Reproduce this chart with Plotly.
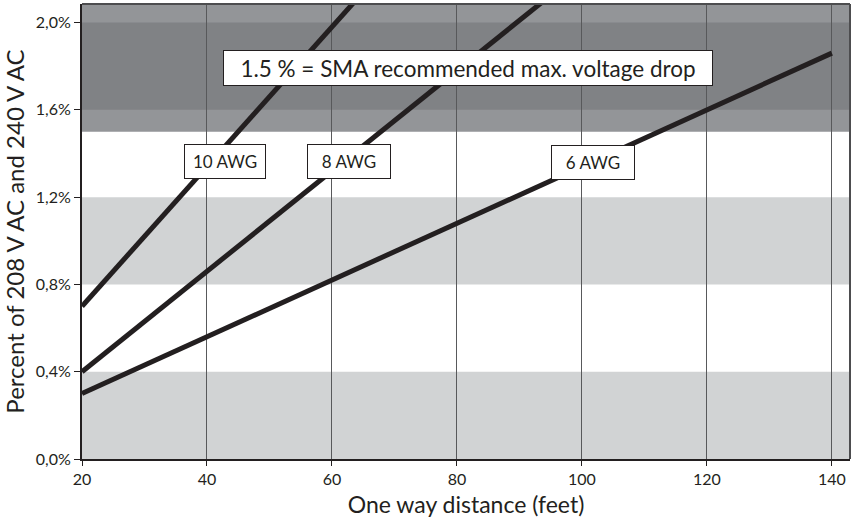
import plotly.graph_objects as go

# distances (feet) and voltage drop (%)
distance = [20, 40, 60, 80, 100, 120, 140]
awg10 = [0.70, 1.34, 1.98, 2.62, None, None, None]
awg8 = [0.40, 0.86, 1.32, 1.78, 2.24, None, None]
awg6 = [0.30, 0.56, 0.82, 1.08, 1.34, 1.60, 1.86]

y_ticks = [0.0, 0.4, 0.8, 1.2, 1.6, 2.0]
y_tick_text = ["0,0%", "0,4%", "0,8%", "1,2%", "1,6%", "2,0%"]
x_ticks = [20, 40, 60, 80, 100, 120, 140]

light_bands = [(0.0, 0.4), (0.8, 1.2)]
limit = 1.5
dark_band = (1.6, 2.0)
y_top = 2.085

ink = "#231f20"
font = "Lato"

fig = go.Figure()
for y in [awg10, awg8, awg6]:
    fig.add_trace(go.Scatter(x=distance, y=y, mode="lines",
                             line=dict(color=ink, width=5), showlegend=False))

shapes = []
for y0, y1 in light_bands:
    shapes.append(dict(type="rect", xref="paper", yref="y", x0=0, x1=1, y0=y0, y1=y1,
                       fillcolor="#d1d3d4", line_width=0, layer="below"))
shapes.append(dict(type="rect", xref="paper", yref="y", x0=0, x1=1, y0=limit, y1=y_top,
                   fillcolor="#939598", line_width=0, layer="below"))
shapes.append(dict(type="rect", xref="paper", yref="y", x0=0, x1=1, y0=dark_band[0], y1=dark_band[1],
                   fillcolor="#808285", line_width=0, layer="below"))
# top and right frame
shapes.append(dict(type="line", xref="paper", yref="paper", x0=0, x1=1, y0=1, y1=1,
                   line=dict(color="#4d4d4f", width=2)))
shapes.append(dict(type="line", xref="paper", yref="paper", x0=1, x1=1, y0=0, y1=1,
                   line=dict(color="#4d4d4f", width=2)))

box = dict(bgcolor="white", bordercolor=ink, borderwidth=1, showarrow=False,
           xref="x", yref="y")
annotations = [
    dict(text="1.5 % = SMA recommended max. voltage drop", x=81.8, y=1.793,
         width=486, height=32, font=dict(family=font, size=22.5, color=ink), **box),
    dict(text="10 AWG", x=42.96, y=1.364, width=78, height=31,
         font=dict(family=font, size=17, color=ink), **box),
    dict(text="8 AWG", x=62.8, y=1.364, width=80, height=31,
         font=dict(family=font, size=17, color=ink), **box),
    dict(text="6 AWG", x=101.8, y=1.357, width=80, height=31,
         font=dict(family=font, size=17, color=ink), **box),
]

fig.update_layout(
    width=851, height=525,
    margin=dict(l=82, r=1, t=4, b=66),
    plot_bgcolor="white", paper_bgcolor="white",
    shapes=shapes, annotations=annotations,
    font=dict(family=font, color=ink),
    xaxis=dict(range=[20, 142.9], tickvals=x_ticks, showgrid=True, automargin=False,
               gridcolor="#58595b", gridwidth=1, zeroline=False,
               showline=True, linecolor=ink, linewidth=2,
               ticks="outside", ticklen=5, tickcolor=ink,
               tickfont=dict(size=16, family=font, color=ink),
               title=dict(text="One way distance (feet)", standoff=10,
                          font=dict(size=23, family=font, color=ink))),
    yaxis=dict(range=[0, y_top], tickvals=y_ticks, ticktext=y_tick_text,
               showgrid=False, zeroline=False, automargin=False,
               showline=True, linecolor=ink, linewidth=2,
               ticks="outside", ticklen=6, tickcolor=ink,
               tickfont=dict(size=16, family=font, color=ink),
               title=dict(text="Percent of 208 V AC and 240 V AC", standoff=4,
                          font=dict(size=24, family=font, color=ink))),
)

# drop the page's default body margin so the chart sits at the window's corner
fig.write_html("out.html", config={"displayModeBar": False},
               post_script="document.body.style.margin = '0';")
